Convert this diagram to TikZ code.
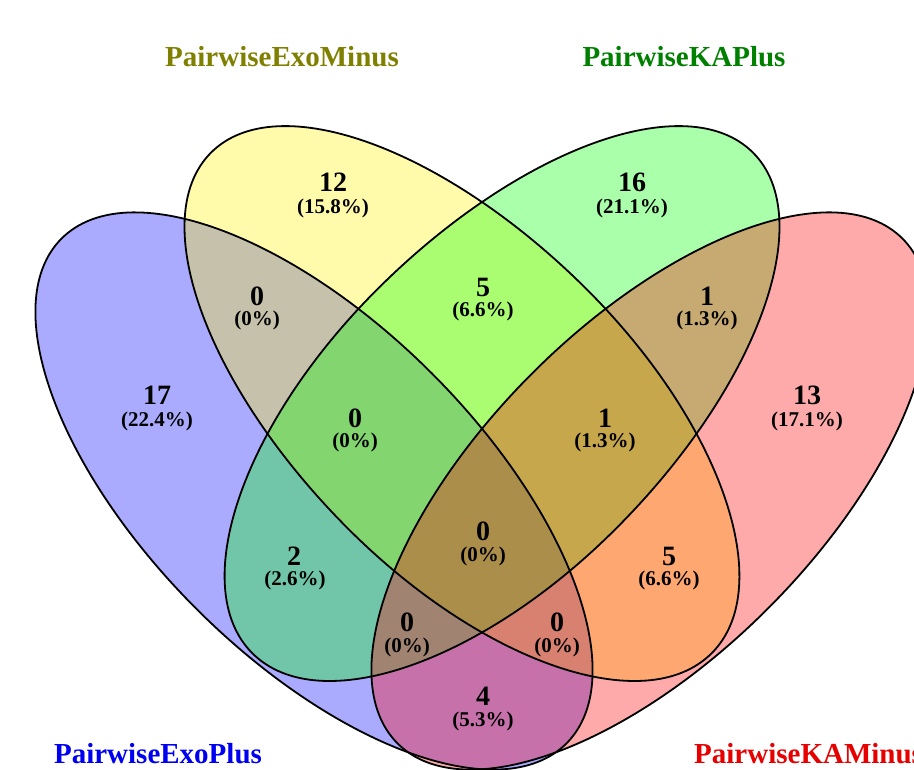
\documentclass[tikz,border=0pt]{standalone}
\usepackage{fontspec}
\setmainfont{Liberation Serif}
\definecolor{ttlolive}{RGB}{128,128,0}
\definecolor{ttlgreen}{RGB}{0,128,0}
\definecolor{ttlblue}{RGB}{0,0,240}
\definecolor{ttlred}{RGB}{230,0,0}
\begin{document}
\begin{tikzpicture}[x=1pt,y=1pt,
  outline/.style={line width=1.8pt, draw=black},
  cnt/.style={font=\fontsize{28}{30}\selectfont\bfseries, inner sep=0pt},
  pct/.style={font=\fontsize{21}{23}\selectfont\bfseries, inner sep=0pt},
  ttl/.style={font=\fontsize{29}{31}\selectfont\bfseries, inner sep=0pt}]
\useasboundingbox (0,0) rectangle (914,770);
\clip (0,0) rectangle (914,770);
\coordinate (cB) at (314,279);
\coordinate (cY) at (467.7,360.7);
\coordinate (cG) at (496.3,360.7);
\coordinate (cR) at (650,279);
\def\blueshape{[rotate around={-45:(cB)}] (cB) ellipse [x radius=357, y radius=166.5]}
\def\redshape{[rotate around={45:(cR)}] (cR) ellipse [x radius=357, y radius=166.5]}
% fills
\fill[blue, fill opacity=0.333, rotate around={-45:(cB)}] (cB) ellipse [x radius=357, y radius=166.5];
\begin{scope}[shift={(cY)}, rotate=-45]
  \fill[yellow, fill opacity=0.333] (0,169) arc[start angle=90, end angle=270, x radius=363, y radius=169]
     arc[start angle=-90, end angle=90, x radius=345, y radius=169] -- cycle;
\end{scope}
\begin{scope}[shift={(cG)}, rotate=45]
  \fill[green, fill opacity=0.333] (0,169) arc[start angle=90, end angle=270, x radius=345, y radius=169]
     arc[start angle=-90, end angle=90, x radius=363, y radius=169] -- cycle;
\end{scope}
\fill[red, fill opacity=0.333, rotate around={45:(cR)}] (cR) ellipse [x radius=357, y radius=166.5];
% outlines
\draw[outline, rotate around={-45:(cB)}] (cB) ellipse [x radius=357, y radius=166.5];
\begin{scope}[shift={(cY)}, rotate=-45]
  \draw[outline] (0,169) arc[start angle=90, end angle=270, x radius=363, y radius=169]
     arc[start angle=-90, end angle=90, x radius=345, y radius=169] -- cycle;
\end{scope}
\begin{scope}[shift={(cG)}, rotate=45]
  \draw[outline] (0,169) arc[start angle=90, end angle=270, x radius=345, y radius=169]
     arc[start angle=-90, end angle=90, x radius=363, y radius=169] -- cycle;
\end{scope}
\draw[outline, rotate around={45:(cR)}] (cR) ellipse [x radius=357, y radius=166.5];
% region labels
\node[cnt] (n1) at (157,375) {17};  \node[pct] (p1) at (157,349) {(22.4\%)};
\node[cnt] (n2) at (333,588) {12};  \node[pct] (p2) at (333,562) {(15.8\%)};
\node[cnt] (n3) at (632,588) {16};  \node[pct] (p3) at (632,562) {(21.1\%)};
\node[cnt] (n4) at (807,375) {13};  \node[pct] (p4) at (807,349) {(17.1\%)};
\node[cnt] (n5) at (257,474) {0};   \node[pct] (p5) at (257,450) {(0\%)};
\node[cnt] (n6) at (707,474) {1};   \node[pct] (p6) at (707,450) {(1.3\%)};
\node[cnt] (n7) at (483,483) {5};   \node[pct] (p7) at (483,459) {(6.6\%)};
\node[cnt] (n8) at (355,352) {0};   \node[pct] (p8) at (355,328) {(0\%)};
\node[cnt] (n9) at (605,352) {1};   \node[pct] (p9) at (605,328) {(1.3\%)};
\node[cnt] (n10) at (483,239) {0};  \node[pct] (p10) at (483,214) {(0\%)};
\node[cnt] (n11) at (294,214) {2};  \node[pct] (p11) at (295,190) {(2.6\%)};
\node[cnt] (n12) at (669,214) {5};  \node[pct] (p12) at (669,190) {(6.6\%)};
\node[cnt] (n13) at (407,148) {0};  \node[pct] (p13) at (407,123) {(0\%)};
\node[cnt] (n14) at (557,148) {0};  \node[pct] (p14) at (557,123) {(0\%)};
\node[cnt] (n15) at (483,74) {4};   \node[pct] (p15) at (483,49) {(5.3\%)};
% titles
\node[ttl, text=ttlolive] (tY) at (282,713) {PairwiseExoMinus};
\node[ttl, text=ttlgreen] (tG) at (684,713) {PairwiseKAPlus};
\node[ttl, text=ttlblue] (tB) at (158,16) {PairwiseExoPlus};
\node[ttl, text=ttlred, anchor=west] (tR) at (694,16) {PairwiseKAMinus};
\end{tikzpicture}
\end{document}
